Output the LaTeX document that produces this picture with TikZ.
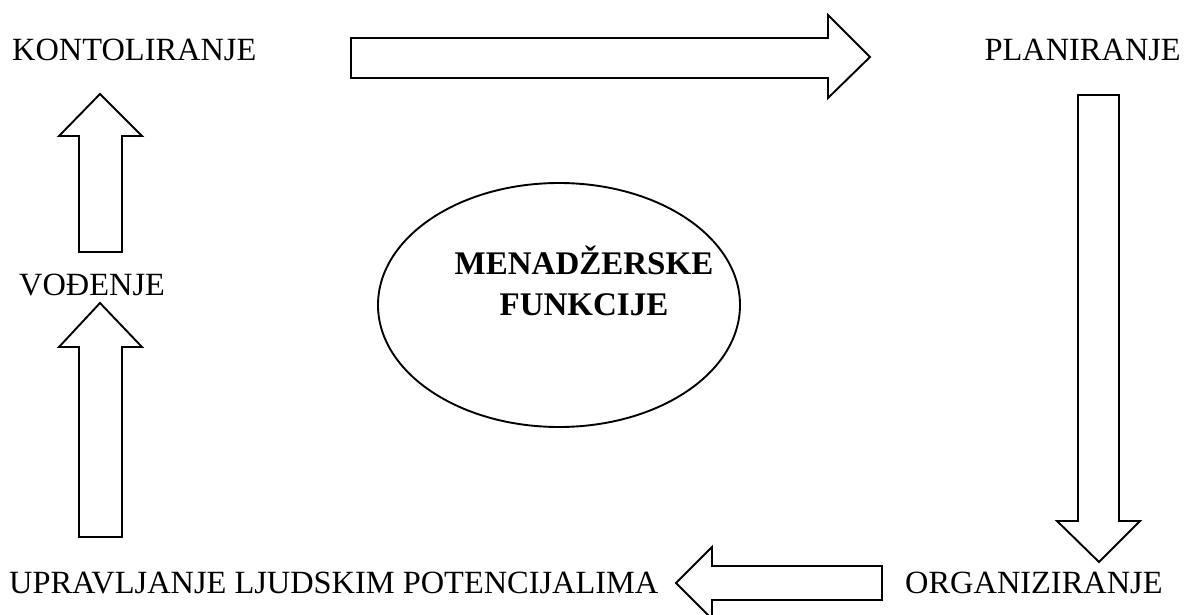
\documentclass[tikz,border=0pt]{standalone}
\usepackage{fontspec}
\setmainfont{Liberation Serif}
\begin{document}
\begin{tikzpicture}[x=1pt,y=-1pt,
  blockarrow/.style={draw=black,line width=1.9pt,fill=white,line join=miter},
  lbl/.style={inner sep=0pt,font=\fontsize{32.4}{38}\selectfont,text=black},
  centre/.style={inner sep=0pt,font=\fontsize{33}{40}\selectfont\bfseries,align=center}]
\useasboundingbox (0,0) rectangle (1190,615);
% labels
\node[lbl,anchor=base west] (kont) at (12,61) {KONTOLIRANJE};
\node[lbl,anchor=base east] (plan) at (1181,61) {PLANIRANJE};
\node[lbl,anchor=base west] (vod) at (19,295) {VOĐENJE};
\node[lbl,anchor=base west] (uprav) at (9,593) {UPRAVLJANJE LJUDSKIM POTENCIJALIMA};
\node[lbl,anchor=base west] (org) at (905,593) {ORGANIZIRANJE};
% ellipse
\draw[line width=1.9pt] (559,305) ellipse [x radius=181, y radius=122];
\node[centre,anchor=base] (men) at (584,274) {MENADŽERSKE};
\node[centre,anchor=base] (fun) at (584,315) {FUNKCIJE};
% block arrows
\draw[blockarrow] (351,38) -- (828,38) -- (828,15) -- (870,57) -- (828,98) -- (828,78) -- (351,78) -- cycle;
\draw[blockarrow] (1078,95) -- (1119,95) -- (1119,521) -- (1140,521) -- (1099,562) -- (1057,521) -- (1078,521) -- cycle;
\draw[blockarrow] (882,566) -- (882,600) -- (712,600) -- (712,619) -- (676,583) -- (712,547) -- (712,566) -- cycle;
\draw[blockarrow] (79,537) -- (79,347) -- (59,347) -- (100,303) -- (142,347) -- (122,347) -- (122,537) -- cycle;
\draw[blockarrow] (79,252) -- (79,136) -- (59,136) -- (100,94) -- (142,136) -- (122,136) -- (122,252) -- cycle;
\end{tikzpicture}
\end{document}
